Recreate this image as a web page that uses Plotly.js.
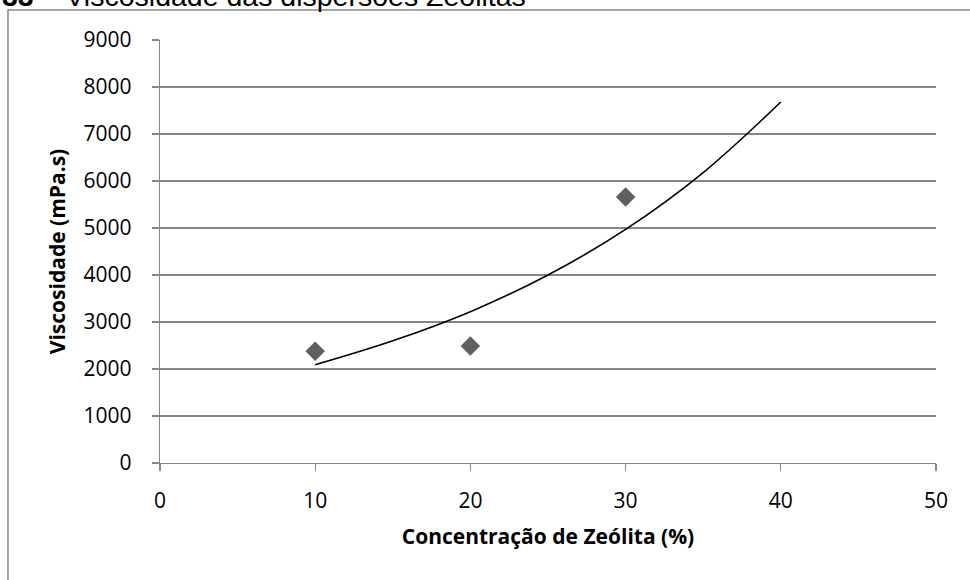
<!DOCTYPE html>
<html>
<head>
<meta charset="utf-8">
<script src="https://cdn.plot.ly/plotly-3.0.1.min.js"></script>
<style>html,body{margin:0;padding:0;background:#fff;}#chart{width:970px;height:580px;}</style>
</head>
<body>
<div id="chart"></div>
<script>
// Data
const concentracao = [10, 20, 30];
const viscosidade = [2380, 2490, 5660];
// Exponential trendline
const trendX = [10, 15, 20, 25, 30, 35, 40];
const trendY = [2090, 2600, 3220, 4000, 4970, 6180, 7680];
const xTicks = [0, 10, 20, 30, 40, 50];
const yTicks = [0, 1000, 2000, 3000, 4000, 5000, 6000, 7000, 8000, 9000];

const tickFont = {family: 'Open Sans, sans-serif', size: 21, color: '#000'};
const titleFont = {family: 'Open Sans, sans-serif', size: 21, color: '#000', weight: 700};

const traces = [
  {
    x: concentracao, y: viscosidade, type: 'scatter', mode: 'markers',
    marker: {symbol: 'diamond', size: 15, color: '#5f5f5f'},
    showlegend: false, hoverinfo: 'x+y'
  },
  {
    x: trendX, y: trendY, type: 'scatter', mode: 'lines',
    line: {color: '#000', width: 1.6, shape: 'spline'},
    showlegend: false, hoverinfo: 'skip'
  }
];

const layout = {
  width: 970, height: 580,
  margin: {l: 160, r: 34, t: 40, b: 117},
  paper_bgcolor: '#fff', plot_bgcolor: '#fff',
  xaxis: {
    range: [0, 50], tickvals: xTicks, ticktext: xTicks.map(String),
    showgrid: false, zeroline: false,
    showline: true, linecolor: '#868686', linewidth: 1.3,
    ticks: 'outside', ticklen: 7, tickcolor: '#868686', tickwidth: 1.3,
    tickfont: tickFont, ticklabelstandoff: 11,
    title: {text: 'Concentração de Zeólita (%)', font: titleFont, standoff: 16},
    fixedrange: true
  },
  yaxis: {
    range: [0, 9000], tickvals: yTicks, ticktext: yTicks.map(String),
    showgrid: true, gridcolor: '#868686', gridwidth: 1.3,
    zeroline: false,
    showline: true, linecolor: '#868686', linewidth: 1.3,
    ticks: 'outside', ticklen: 7, tickcolor: '#868686', tickwidth: 1.3,
    tickfont: tickFont, ticklabelstandoff: 16,
    title: {text: 'Viscosidade (mPa.s)', font: titleFont, standoff: 12},
    fixedrange: true
  },
  shapes: [
    {type: 'rect', xref: 'paper', yref: 'paper',
     x0: -0.1959, x1: 1.2, y0: -0.6, y1: 1.0709,
     line: {color: '#888', width: 1.5}, fillcolor: 'rgba(0,0,0,0)', layer: 'below'}
  ],
  annotations: [
    {xref: 'paper', yref: 'paper', x: -0.2062, y: 1.062, xanchor: 'left', yanchor: 'bottom',
     text: '<b>33</b>    Viscosidade das dispersões Zeólitas', showarrow: false,
     font: {family: 'Liberation Sans, Arial, sans-serif', size: 28.5, color: '#000'}}
  ]
};

Plotly.newPlot('chart', traces, layout, {displayModeBar: false, staticPlot: true});
</script>
</body>
</html>
